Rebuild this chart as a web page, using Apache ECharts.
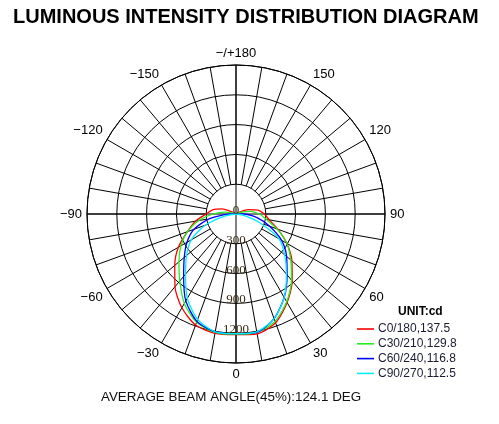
<!DOCTYPE html>
<html>
<head>
<meta charset="utf-8">
<script src="https://cdn.jsdelivr.net/npm/echarts@6/dist/echarts.min.js"></script>
<style>
html, body { margin: 0; padding: 0; background: #fff; }
#myChart { width: 499px; height: 424px; }
</style>
</head>
<body>
<div id="myChart"></div>
<script>
var chartTitle = 'LUMINOUS INTENSITY DISTRIBUTION DIAGRAM';
var footerText = 'AVERAGE BEAM ANGLE(45%):124.1 DEG';
var unitText = 'UNIT:cd';

var seriesNames = ['C0/180,137.5', 'C30/210,129.8', 'C60/240,116.8', 'C90/270,112.5'];
var seriesColors = ['#ff0000', '#22ee22', '#0000ff', '#00eeff'];

// gamma step of the tables below, degrees (index 0 = 0deg, downwards)
var gammaStep = 10;

// intensities in cd, gamma 0..180, right half (+) and left half (-)
var c0Right   = [1215, 1225, 1165, 1030, 880, 735, 590, 450, 340, 285, 225, 130, 30, 0, 0, 0, 0, 0, 0];
var c180Left  = [1215, 1220, 1190, 1090, 955, 805, 670, 520, 415, 300, 240, 150, 40, 0, 0, 0, 0, 0, 0];
var c30Right  = [1210, 1210, 1150, 1020, 870, 720, 590, 440, 310, 235, 150, 50, 0, 0, 0, 0, 0, 0, 0];
var c210Left  = [1210, 1210, 1160, 1040, 880, 750, 640, 520, 380, 230, 110, 20, 0, 0, 0, 0, 0, 0, 0];
var c60Right  = [1205, 1210, 1120, 970, 800, 665, 530, 360, 220, 70, 0, 0, 0, 0, 0, 0, 0, 0, 0];
var c240Left  = [1205, 1205, 1150, 1010, 820, 680, 570, 450, 270, 50, 0, 0, 0, 0, 0, 0, 0, 0, 0];
var c90Right  = [1205, 1205, 1120, 970, 790, 640, 500, 250, 80, 0, 0, 0, 0, 0, 0, 0, 0, 0, 0];
var c270Left  = [1205, 1205, 1130, 980, 790, 650, 520, 330, 110, 0, 0, 0, 0, 0, 0, 0, 0, 0, 0];

var radiusMax = 1500;
var radiusStep = 300;
var angleLabelStep = 30;
var spokeStep = 10;

var Diagram = {};

Diagram.buildCurve = function(right, left) {
	var points = [];
	for (var i = left.length - 1; i > 0; i--) {
		points.push([left[i], -i * gammaStep]);
	}
	for (var j = 0; j < right.length; j++) {
		points.push([right[j], j * gammaStep]);
	}
	return points;
};

Diagram.angleFormatter = function(value) {
	if (value === 180 || value === -180) {
		return '\u2212/+180';
	}
	if (value < 0) {
		return '\u2212' + (-value);
	}
	return '' + value;
};

Diagram.init = function() {
	var myChart = echarts.init(document.getElementById('myChart'));
	var center = [236, 214];
	var outerR = 149;
	var innerR = outerR / 5;
	var gridLine = { color: '#000', width: 1 };

	var curves = [
		Diagram.buildCurve(c0Right, c180Left),
		Diagram.buildCurve(c30Right, c210Left),
		Diagram.buildCurve(c60Right, c240Left),
		Diagram.buildCurve(c90Right, c270Left)
	];

	var series = [];
	for (var i = 0; i < curves.length; i++) {
		series.push({
			name : seriesNames[i],
			type : 'line',
			coordinateSystem : 'polar',
			polarIndex : 0,
			symbol : 'none',
			smooth : 0.25,
			data : curves[i],
			lineStyle : { color : seriesColors[i], width : 1.3 },
			itemStyle : { color : seriesColors[i] },
			z : 10
		});
	}

	var option = {
		backgroundColor : '#fff',
		animation : false,
		title : [ {
			text : chartTitle,
			left : 13,
			top : 7,
			padding : 0,
			textStyle : { fontFamily : 'Liberation Sans', fontWeight : 'bold', fontSize : 20, color : '#000' }
		}, {
			text : footerText,
			left : 101,
			top : 391,
			padding : 0,
			textStyle : { fontFamily : 'Liberation Sans', fontWeight : 'normal', fontSize : 13.4, color : '#111' }
		}, {
			text : unitText,
			left : 398,
			top : 306,
			padding : 0,
			textStyle : { fontFamily : 'Liberation Sans', fontWeight : 'bold', fontSize : 12, color : '#000' }
		} ],
		legend : {
			orient : 'vertical',
			left : 357,
			top : 323,
			padding : 0,
			icon : 'rect',
			itemWidth : 17,
			itemHeight : 1.6,
			itemGap : 2.8,
			textStyle : { fontFamily : 'Liberation Sans', fontSize : 12, lineHeight : 12, color : '#1b1b33', padding : [0, 0, 0, -1] },
			data : seriesNames
		},
		polar : [
			{ center : center, radius : [0, outerR] },
			{ center : center, radius : [innerR, outerR] },
			{ center : center, radius : [0, outerR] }
		],
		angleAxis : [ {
			polarIndex : 0,
			type : 'value',
			min : -180,
			max : 180,
			interval : angleLabelStep,
			startAngle : 90,
			clockwise : false,
			axisLine : { show : true, lineStyle : gridLine },
			axisTick : { show : false },
			splitLine : { show : false },
			axisLabel : {
				show : true,
				margin : 5,
				fontFamily : 'Liberation Sans',
				fontSize : 13,
				color : '#000',
				formatter : Diagram.angleFormatter
			}
		}, {
			polarIndex : 1,
			type : 'value',
			min : 0,
			max : 360,
			interval : spokeStep,
			startAngle : 270,
			axisLine : { show : false },
			axisTick : { show : false },
			axisLabel : { show : false },
			splitLine : { show : true, lineStyle : gridLine }
		}, {
			polarIndex : 2,
			type : 'value',
			min : 0,
			max : 360,
			interval : 90,
			startAngle : 270,
			axisLine : { show : false },
			axisTick : { show : false },
			axisLabel : { show : false },
			splitLine : { show : true, lineStyle : gridLine }
		} ],
		radiusAxis : [ {
			polarIndex : 0,
			type : 'value',
			min : 0,
			max : radiusMax,
			show : false
		}, {
			polarIndex : 1,
			type : 'value',
			min : 0,
			max : 4,
			interval : 1,
			axisLine : { show : false },
			axisTick : { show : false },
			axisLabel : { show : false },
			splitLine : { show : true, lineStyle : gridLine }
		}, {
			polarIndex : 2,
			type : 'value',
			min : 0,
			max : radiusMax,
			interval : radiusStep,
			axisLine : { show : false },
			axisTick : { show : false },
			splitLine : { show : false },
			z : 20,
			axisLabel : {
				show : true,
				margin : 0,
				rotate : 0,
				align : 'center',
				verticalAlign : 'bottom',
				padding : [0, 0, -3, 0],
				fontFamily : 'Liberation Serif',
				fontSize : 13,
				color : '#3a2a12',
				formatter : function(value) {
					return value >= radiusMax ? '' : '' + value;
				}
			}
		} ],
		series : series
	};

	myChart.setOption(option);
};

Diagram.init();
</script>
</body>
</html>
